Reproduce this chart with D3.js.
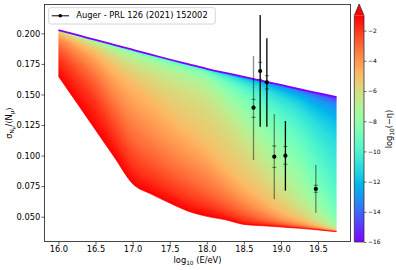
<!DOCTYPE html>
<html><head><meta charset="utf-8">
<script src="https://cdn.jsdelivr.net/npm/d3@7"></script>
<style>
body{margin:0;background:#fff}
svg{display:block}
text{font-family:"DejaVu Sans",sans-serif;fill:#000}
</style>
</head><body>
<svg id="c" width="396" height="270"></svg>
<script>
// ---------------- data ----------------
const energy = [16.0,16.25,16.5,16.75,17.0,17.25,17.5,17.75,18.0,18.25,18.5,18.75,19.0,19.25,19.5,19.75];
const etaExp = [-1,-2,-3,-4,-5,-6,-7,-8,-9,-10,-11,-12,-13,-14,-15,-16];
const sigmaEtaM1  = [0.165,0.143,0.121,0.099,0.077,0.0685,0.0612,0.0545,0.0503,0.0475,0.0437,0.0426,0.0416,0.0405,0.0392,0.0377];
const sigmaEtaM2  = [0.180,0.163,0.144,0.118,0.093,0.082,0.073,0.065,0.059,0.053,0.047,0.0445,0.0428,0.0412,0.0396,0.0379];
const sigmaEtaM3  = [0.190,0.177,0.161,0.138,0.114,0.101,0.090,0.080,0.071,0.062,0.054,0.048,0.0445,0.0422,0.0402,0.0382];
const sigmaEtaM4  = [0.1965,0.187,0.175,0.157,0.138,0.124,0.111,0.100,0.089,0.076,0.064,0.055,0.048,0.0440,0.041,0.0386];
const sigmaEtaM5  = [0.2002,0.1928,0.1845,0.1725,0.160,0.148,0.134,0.121,0.108,0.092,0.078,0.066,0.055,0.048,0.0425,0.0391];
const sigmaEtaM6  = [0.2017,0.1960,0.1900,0.1820,0.1735,0.166,0.158,0.150,0.140,0.124,0.106,0.087,0.069,0.056,0.0455,0.0398];
const sigmaEtaM7  = [0.2023,0.1975,0.1926,0.1868,0.1810,0.1755,0.1700,0.164,0.157,0.142,0.125,0.107,0.088,0.069,0.052,0.041];
const sigmaEtaM8  = [0.2025,0.1981,0.1938,0.1891,0.1843,0.1795,0.1748,0.1700,0.1645,0.1530,0.140,0.124,0.107,0.088,0.064,0.044];
const sigmaEtaM9  = [0.2026,0.1984,0.1943,0.1900,0.1858,0.1813,0.1770,0.1726,0.1680,0.1600,0.1505,0.138,0.124,0.108,0.082,0.055];
const sigmaEtaM10 = [0.2027,0.1986,0.1945,0.1904,0.1863,0.1821,0.1780,0.1740,0.1698,0.1640,0.1570,0.1485,0.138,0.126,0.105,0.080];
const sigmaEtaM11 = [0.2027,0.1987,0.1946,0.1906,0.1865,0.1825,0.1785,0.1746,0.1706,0.1662,0.1610,0.1550,0.1475,0.139,0.125,0.110];
const sigmaEtaM12 = [0.2027,0.1987,0.1946,0.1906,0.1866,0.1826,0.1786,0.1748,0.1709,0.1671,0.1630,0.1588,0.1530,0.1468,0.1375,0.128];
const sigmaEtaM13 = [0.2027,0.1987,0.1946,0.1906,0.1866,0.1826,0.1786,0.1748,0.1710,0.1675,0.1640,0.1603,0.1562,0.1515,0.1455,0.139];
const sigmaEtaM14 = [0.2027,0.1987,0.1946,0.1906,0.1866,0.1826,0.1786,0.1748,0.1710,0.1677,0.1643,0.1609,0.1574,0.1535,0.1492,0.1445];
const sigmaEtaM15 = [0.2027,0.1987,0.1946,0.1906,0.1866,0.1826,0.1786,0.1748,0.1710,0.1677,0.1644,0.1611,0.1577,0.1542,0.1506,0.1468];
const sigmaEtaM16 = [0.2027,0.1987,0.1946,0.1906,0.1866,0.1826,0.1786,0.1748,0.1710,0.1677,0.1644,0.1611,0.1578,0.1544,0.1511,0.1478];

const augerLabel = "Auger - PRL 126 (2021) 152002";
const augerE       = [18.63, 18.72, 18.81, 18.91, 19.06, 19.47];
const augerSigma   = [0.1392, 0.1692, 0.1599, 0.0991, 0.0999, 0.0727];
const augerErrLow  = [0.0964, 0.1236, 0.1236, 0.0642, 0.0713, 0.0533];
const augerErrHigh = [0.1815, 0.2150, 0.1959, 0.1340, 0.1283, 0.0923];
const augerSysLow  = [0.1313, 0.1624, 0.1545, 0.0904, 0.0929, 0.0700];
const augerSysHigh = [0.1460, 0.1763, 0.1653, 0.1078, 0.1074, 0.0757];

const xTicks = [16.0,16.5,17.0,17.5,18.0,18.5,19.0,19.5];
const yTicks = [0.050,0.075,0.100,0.125,0.150,0.175,0.200];
const cbTicks = [-2,-4,-6,-8,-10,-12,-14,-16];
const cbDomain = [-16,-1];

// ---------------- drawing ----------------
const curves = [sigmaEtaM1,sigmaEtaM2,sigmaEtaM3,sigmaEtaM4,sigmaEtaM5,sigmaEtaM6,sigmaEtaM7,sigmaEtaM8,
                sigmaEtaM9,sigmaEtaM10,sigmaEtaM11,sigmaEtaM12,sigmaEtaM13,sigmaEtaM14,sigmaEtaM15,sigmaEtaM16];

function rainbow(t){
  t = Math.max(0, Math.min(1, t));
  const r = Math.min(1, Math.abs(2*t - 0.5));
  const g = Math.sin(Math.PI*t);
  const b = Math.max(0, Math.cos(Math.PI*t/2));
  return d3.rgb(255*r, 255*g, 255*b);
}
const cnorm = d3.scaleLinear().domain(cbDomain).range([0,1]).clamp(true);
const color = v => rainbow(cnorm(v)).formatHex();

const W = 396, H = 270;
const svg = d3.select('#c');
const L = 44.5, R = 350.5, T = 4.5, B = 241.5;
const x = d3.scaleLinear().domain([15.8125, 19.9375]).range([L, R]);
const y = d3.scaleLinear().domain([0.0297, 0.2236]).range([B, T]);

// same monotone interpolation as d3.curveMonotoneX, evaluated at any energy
const n = energy.length, m = curves.length;
function tangents(vals){
  const t = new Array(n).fill(0);
  for (let i = 1; i < n-1; i++){
    const h0 = energy[i]-energy[i-1], h1 = energy[i+1]-energy[i];
    const s0 = (vals[i]-vals[i-1])/h0, s1 = (vals[i+1]-vals[i])/h1;
    const p = (s0*h1 + s1*h0)/(h0+h1);
    t[i] = ((Math.sign(s0)+Math.sign(s1)) * Math.min(Math.abs(s0), Math.abs(s1), 0.5*Math.abs(p))) || 0;
  }
  const hA = energy[1]-energy[0], hB = energy[n-1]-energy[n-2];
  t[0] = (3*(vals[1]-vals[0])/hA - t[1])/2;
  t[n-1] = (3*(vals[n-1]-vals[n-2])/hB - t[n-2])/2;
  return t;
}
const curveTan = curves.map(tangents);
function evalCurve(k, E){
  const a = curves[k], tg = curveTan[k];
  let j = Math.max(0, Math.min(n-2, d3.bisectRight(energy, E) - 1));
  const dx = energy[j+1]-energy[j], u = (E - energy[j]) / dx, v = 1-u;
  const p0 = a[j], p1 = a[j] + dx*tg[j]/3, p2 = a[j+1] - dx*tg[j+1]/3, p3 = a[j+1];
  return v*v*v*p0 + 3*v*v*u*p1 + 3*v*u*u*p2 + u*u*u*p3;
}

const defs = svg.append('defs');
const envArea = d3.area()
  .x((d,i)=>x(energy[i])).y0((d,i)=>y(sigmaEtaM1[i])).y1((d,i)=>y(sigmaEtaM16[i]))
  .curve(d3.curveMonotoneX);
defs.append('clipPath').attr('id','env').append('path').attr('d', envArea(energy));

// colour field between the eta curves (each pixel coloured by the curve passing through it)
const cvs = document.createElement('canvas'); cvs.width = W; cvs.height = H;
const ctx = cvs.getContext('2d');
const img = ctx.createImageData(W, H);
const lut = d3.range(256).map(i => rainbow(i/255));
const c0 = Math.floor(x(energy[0])) - 1, c1 = Math.ceil(x(energy[n-1])) + 1;
for (let c = c0; c <= c1; c++){
  const E = Math.max(energy[0], Math.min(energy[n-1], x.invert(c + 0.5)));
  const ys = d3.range(m).map(k => y(evalCurve(k, E)));
  for (let r = Math.floor(ys[m-1]) - 3; r <= Math.ceil(ys[0]) + 3; r++){
    const yc = r + 0.5;
    let Lv = etaExp[m-1];
    if (yc >= ys[0]) Lv = etaExp[0];
    else if (yc > ys[m-1]) {
      for (let k = 0; k < m-1; k++){
        if (yc <= ys[k] && yc >= ys[k+1]){
          const d = ys[k] - ys[k+1];
          Lv = d > 1e-9 ? etaExp[k] + (ys[k] - yc) / d * (etaExp[k+1] - etaExp[k]) : etaExp[k+1];
          break;
        }
      }
    }
    const col = lut[Math.round(cnorm(Lv) * 255)];
    const idx = (r * W + c) * 4;
    img.data[idx] = col.r; img.data[idx+1] = col.g; img.data[idx+2] = col.b; img.data[idx+3] = 255;
  }
}
ctx.putImageData(img, 0, 0);
svg.append('image').attr('href', cvs.toDataURL()).attr('x',0).attr('y',0)
  .attr('width',W).attr('height',H).attr('clip-path','url(#env)');

// top (smallest |eta|) line and bottom line
const line = d3.line().x((d,i)=>x(energy[i])).y(d=>y(d)).curve(d3.curveMonotoneX);
svg.append('path').attr('d', line(sigmaEtaM16)).attr('fill','none')
  .attr('stroke', color(etaExp[m-1])).attr('stroke-width', 1.8);
svg.append('path').attr('d', line(sigmaEtaM1)).attr('fill','none')
  .attr('stroke', color(etaExp[0])).attr('stroke-width', 0.7);

// Auger data
const barOpacity = [0.45, 1, 1, 0.45, 1, 0.45];
const gA = svg.append('g');
augerE.forEach((e,i)=>{
  const cx = x(e);
  gA.append('line').attr('x1',cx).attr('x2',cx).attr('y1',y(augerErrLow[i])).attr('y2',y(augerErrHigh[i]))
    .attr('stroke','#000').attr('stroke-opacity',barOpacity[i]).attr('stroke-width',1.3);
  [augerSysLow[i], augerSysHigh[i]].forEach(v=>{
    gA.append('line').attr('x1',cx-2).attr('x2',cx+2).attr('y1',y(v)).attr('y2',y(v))
      .attr('stroke','#000').attr('stroke-opacity',0.55).attr('stroke-width',1);
  });
  gA.append('circle').attr('cx',cx).attr('cy',y(augerSigma[i])).attr('r',2.1).attr('fill','#000');
});

// axes
const fs = 8.3;
const ax = svg.append('g').attr('transform',`translate(0,${B})`)
  .call(d3.axisBottom(x).tickValues(xTicks).tickFormat(d3.format('.1f')).tickSize(3).tickPadding(2));
const ay = svg.append('g').attr('transform',`translate(${L},0)`)
  .call(d3.axisLeft(y).tickValues(yTicks).tickFormat(d3.format('.3f')).tickSize(3).tickPadding(1.2));
[ax, ay].forEach(a=>{
  a.select('.domain').remove();
  a.selectAll('.tick line').attr('stroke','#333').attr('stroke-width',0.8);
  a.selectAll('.tick text').attr('font-size',fs).attr('font-family','DejaVu Sans').attr('fill','#000');
});
svg.append('rect').attr('x',L).attr('y',T).attr('width',R-L).attr('height',B-T)
  .attr('fill','none').attr('stroke','#333').attr('stroke-width',0.9);

// axis labels
const xl = svg.append('text').attr('x',(L+R)/2).attr('y',263).attr('text-anchor','middle').attr('font-size',fs);
xl.append('tspan').text('log');
xl.append('tspan').attr('font-size',fs*0.7).attr('dy',2).text('10');
xl.append('tspan').attr('dy',-2).text(' (E/eV)');

const yl = svg.append('text').attr('transform',`translate(12,${(T+B)/2}) rotate(-90)`)
  .attr('text-anchor','middle').attr('font-size',fs);
yl.append('tspan').text('σ');
yl.append('tspan').attr('font-size',fs*0.7).attr('dy',2).text('N');
yl.append('tspan').attr('font-size',fs*0.5).attr('dy',1.2).text('μ');
yl.append('tspan').attr('dy',-3.2).text('/⟨N');
yl.append('tspan').attr('font-size',fs*0.7).attr('dy',2).text('μ');
yl.append('tspan').attr('dy',-2).text('⟩');

// legend
const lg = svg.append('g');
lg.append('rect').attr('x',48.7).attr('y',7.7).attr('width',166.6).attr('height',16.3).attr('rx',2)
  .attr('fill','#fff').attr('fill-opacity',0.8).attr('stroke','#ccc').attr('stroke-width',0.8);
lg.append('line').attr('x1',51.7).attr('x2',69).attr('y1',15.8).attr('y2',15.8).attr('stroke','#000').attr('stroke-width',1);
lg.append('circle').attr('cx',60.3).attr('cy',15.8).attr('r',1.8).attr('fill','#000');
lg.append('text').attr('x',76.3).attr('y',18.4).attr('font-size',fs).text(augerLabel);

// colorbar
const cbx0 = 354.3, cbw = 9.7;
const cb = d3.scaleLinear().domain(cbDomain).range([242, 15.5]);
const grad = defs.append('linearGradient').attr('id','cbg').attr('x1',0).attr('x2',0).attr('y1',1).attr('y2',0);
d3.range(0,1.0001,0.05).forEach(t=>grad.append('stop').attr('offset',t).attr('stop-color',rainbow(t).formatHex()));
svg.append('rect').attr('x',cbx0).attr('y',cb(cbDomain[1])).attr('width',cbw).attr('height',cb(cbDomain[0])-cb(cbDomain[1]))
  .attr('fill','url(#cbg)');
const tipY = 4;
svg.append('path').attr('d',`M${cbx0},${cb(cbDomain[1])}L${cbx0+cbw/2},${tipY}L${cbx0+cbw},${cb(cbDomain[1])}Z`)
  .attr('fill', rainbow(1).formatHex());
svg.append('path').attr('d',`M${cbx0},${cb(cbDomain[0])}L${cbx0},${cb(cbDomain[1])}L${cbx0+cbw/2},${tipY}L${cbx0+cbw},${cb(cbDomain[1])}L${cbx0+cbw},${cb(cbDomain[0])}Z`)
  .attr('fill','none').attr('stroke','#333').attr('stroke-width',0.8);
const acb = svg.append('g').attr('transform',`translate(${cbx0+cbw},0)`)
  .call(d3.axisRight(cb).tickValues(cbTicks).tickFormat(d3.format('d')).tickSize(2.5).tickPadding(1.5));
acb.select('.domain').remove();
acb.selectAll('.tick line').attr('stroke','#333').attr('stroke-width',0.7);
acb.selectAll('.tick text').attr('font-size',6).attr('font-family','DejaVu Sans').attr('fill','#000');

const cl = svg.append('text').attr('transform',`translate(392,129) rotate(-90)`)
  .attr('text-anchor','middle').attr('font-size',fs);
cl.append('tspan').text('log');
cl.append('tspan').attr('font-size',fs*0.7).attr('dy',2).text('10');
cl.append('tspan').attr('dy',-2).text('(−η)');
</script>
</body></html>
